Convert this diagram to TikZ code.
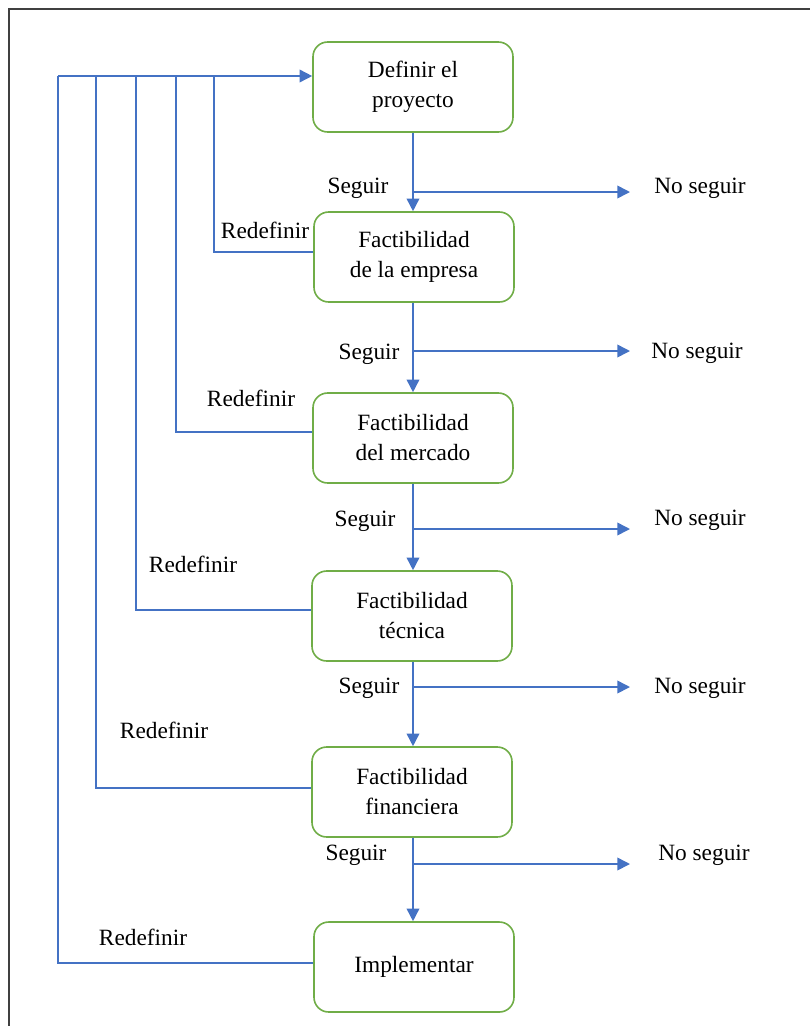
\documentclass[tikz,border=0pt]{standalone}
\usepackage{fontspec}
\setmainfont{Liberation Serif}
\usetikzlibrary{arrows.meta}
\definecolor{flowblue}{HTML}{4472C4}
\definecolor{boxgreen}{HTML}{70AD47}
\definecolor{framegray}{HTML}{404040}
\begin{document}
\begin{tikzpicture}[x=0.75pt,y=-0.75pt,
  stagebox/.style={draw=boxgreen,line width=1.2pt,rounded corners=11pt,
    minimum width=150pt,minimum height=67.5pt,align=center,
    font=\fontsize{17.5}{22.5}\selectfont,fill=white},
  lbl/.style={font=\fontsize{17.5}{21}\selectfont,inner sep=0pt},
  flow/.style={draw=flowblue,line width=1.2pt},
  flowarrow/.style={flow,-{Triangle[length=9.5pt,width=9.5pt]}}]
\useasboundingbox (0,0) rectangle (810,1026);
\draw[framegray,line width=1.2pt] (9,1030) -- (9,9) -- (815,9);

% boxes
\node[stagebox] (b1) at (413,87) {Definir el\\proyecto};
\node[stagebox] (b2) at (414,257) {Factibilidad\\de la empresa};
\node[stagebox] (b3) at (413,438) {Factibilidad\\del mercado};
\node[stagebox] (b4) at (412,616) {Factibilidad\\técnica};
\node[stagebox] (b5) at (412,792) {Factibilidad\\financiera};
\node[stagebox] (b6) at (414,967) {Implementar};

% "No seguir" targets
\node[lbl] (n1) at (700,188) {No seguir};
\node[lbl] (n2) at (697,353) {No seguir};
\node[lbl] (n3) at (700,520) {No seguir};
\node[lbl] (n4) at (700,688) {No seguir};
\node[lbl] (n5) at (704,855) {No seguir};

% Seguir labels
\node[lbl] at (358,188) {Seguir};
\node[lbl] at (369,354) {Seguir};
\node[lbl] at (365,521) {Seguir};
\node[lbl] at (369,688) {Seguir};
\node[lbl] at (356,855) {Seguir};

% Redefinir labels
\node[lbl] at (265,230) {Redefinir};
\node[lbl] at (251,398) {Redefinir};
\node[lbl] at (193,564) {Redefinir};
\node[lbl] at (164,730) {Redefinir};
\node[lbl] at (143,937) {Redefinir};

% branch points and ends
\coordinate (s1) at (413,192); \coordinate (e1) at (630,192);
\coordinate (s2) at (413,351); \coordinate (e2) at (630,351);
\coordinate (s3) at (413,529); \coordinate (e3) at (630,529);
\coordinate (s4) at (413,687); \coordinate (e4) at (630,687);
\coordinate (s5) at (413,864); \coordinate (e5) at (630,864);

% vertical flow
\draw[flowarrow] (b1.south -| s1) -- (b2.north -| s1);
\draw[flowarrow] (b2.south -| s2) -- (b3.north -| s2);
\draw[flowarrow] (b3.south -| s3) -- (b4.north -| s3);
\draw[flowarrow] (b4.south -| s4) -- (b5.north -| s4);
\draw[flowarrow] (b5.south -| s5) -- (b6.north -| s5);

% no seguir branches
\draw[flowarrow] (s1) -- (e1);
\draw[flowarrow] (s2) -- (e2);
\draw[flowarrow] (s3) -- (e3);
\draw[flowarrow] (s4) -- (e4);
\draw[flowarrow] (s5) -- (e5);

% feedback (Redefinir) loops
\coordinate (top) at (58,76);
\draw[flowarrow] (top) -- (b1.west |- top);
\draw[flow] ([yshift=3.75pt]b2.west) -| (214,76);
\draw[flow] ([yshift=4.5pt]b3.west) -| (176,76);
\draw[flow] ([yshift=4.5pt]b4.west) -| (136,76);
\draw[flow] ([yshift=3pt]b5.west) -| (96,76);
\draw[flow] ([yshift=3pt]b6.west) -| (top);
\end{tikzpicture}
\end{document}
